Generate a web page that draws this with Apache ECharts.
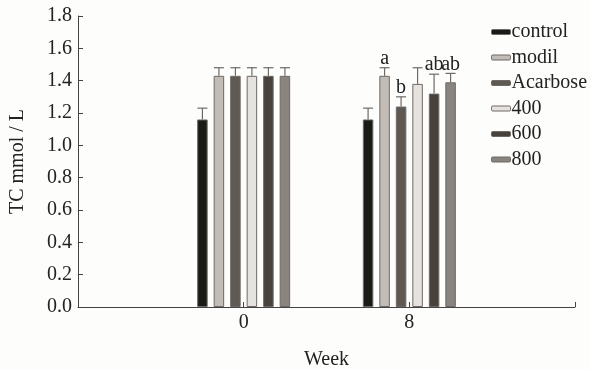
<!DOCTYPE html>
<html>
<head>
<meta charset="utf-8">
<script src="https://cdn.jsdelivr.net/npm/echarts@6/dist/echarts.min.js"></script>
<style>html,body{margin:0;padding:0;background:#fdfdfb;}#c{width:590px;height:370px;}</style>
</head>
<body>
<div id="c"></div>
<script>
var categories = ['', '0', '8', ''];
var seriesNames = ['control', 'modil', 'Acarbose', '400', '600', '800'];
var control  = [null, 1.16, 1.16, null];
var modil    = [null, 1.43, 1.43, null];
var acarbose = [null, 1.43, 1.24, null];
var dose400  = [null, 1.43, 1.38, null];
var dose600  = [null, 1.43, 1.32, null];
var dose800  = [null, 1.43, 1.39, null];
var errControl  = [null, 0.07, 0.07, null];
var errModil    = [null, 0.05, 0.05, null];
var errAcarbose = [null, 0.05, 0.06, null];
var err400      = [null, 0.05, 0.10, null];
var err600      = [null, 0.05, 0.12, null];
var err800      = [null, 0.05, 0.055, null];
var lettersWeek8 = ['', 'a', 'b', '', 'ab', 'ab'];
var yTicks = [0, 0.2, 0.4, 0.6, 0.8, 1.0, 1.2, 1.4, 1.6, 1.8];

var values = [control, modil, acarbose, dose400, dose600, dose800];
var errs = [errControl, errModil, errAcarbose, err400, err600, err800];
var letters = [[], [], [], []];
letters[2] = lettersWeek8;
var colors = ['#1a1a16', '#c2bcb7', '#5f5954', '#e6e2de', '#48423d', '#8a847f'];
var BW = 10.5, GAP = 6;
var stride = BW + GAP;
var font = '"Liberation Serif", "Times New Roman", serif';

var chart = echarts.init(document.getElementById('c'));
var series = [];
seriesNames.forEach(function (n, i) {
  series.push({
    name: n, type: 'bar', data: values[i], barWidth: BW, barGap: (GAP / BW * 100) + '%',
    itemStyle: { color: colors[i], borderColor: '#6e6965', borderWidth: 1 },
    z: 2
  });
});
seriesNames.forEach(function (n, i) {
  var data = [];
  for (var k = 0; k < categories.length; k++) {
    if (values[i][k] != null) data.push([k, values[i][k], errs[i][k], letters[k][i] || '']);
  }
  series.push({
    type: 'custom', silent: true, z: 3,
    data: data,
    encode: { x: 0, y: 1 },
    renderItem: function (params, api) {
      var k = api.value(0), v = api.value(1), e = api.value(2);
      var lab = data[params.dataIndex][3];
      var base = api.coord([k, v]);
      var top = api.coord([k, v + e]);
      var x = base[0] + (i - 2.5) * stride;
      var children = [
        { type: 'line', shape: { x1: x, y1: base[1], x2: x, y2: top[1] }, style: { stroke: '#6e6965', lineWidth: 1.2 } },
        { type: 'line', shape: { x1: x - 5, y1: top[1], x2: x + 5, y2: top[1] }, style: { stroke: '#6e6965', lineWidth: 1.2 } }
      ];
      if (lab) {
        children.push({ type: 'text', style: { text: lab, x: x, y: top[1] + 1, align: 'center', verticalAlign: 'bottom', font: '20px ' + font, fill: '#222' } });
      }
      return { type: 'group', children: children };
    }
  });
});

chart.setOption({
  backgroundColor: '#fdfdfb',
  animation: false,
  grid: { left: 78, right: 15, top: 16, bottom: 63, containLabel: false, outerBoundsMode: 'none' },
  legend: {
    orient: 'vertical', left: 486, top: 17, itemWidth: 19, itemHeight: 5, itemGap: 5.5,
    data: seriesNames,
    textStyle: { fontFamily: font, fontSize: 20, color: '#222', padding: [0, 0, 0, -4] },
    itemStyle: { borderColor: '#6e6965', borderWidth: 1 }
  },
  xAxis: {
    type: 'category', data: categories, boundaryGap: false,
    name: 'Week', nameLocation: 'middle', nameGap: 43,
    nameTextStyle: { fontFamily: font, fontSize: 20, color: '#222' },
    axisLine: { lineStyle: { color: '#444', width: 1 } },
    axisTick: { inside: true, length: 5, lineStyle: { color: '#444' } },
    axisLabel: { fontFamily: font, fontSize: 20, color: '#222', margin: 6 },
    splitLine: { show: false }
  },
  yAxis: {
    type: 'value', min: 0, max: 1.8, interval: 0.2,
    name: 'TC mmol / L', nameLocation: 'middle', nameGap: 50,
    nameTextStyle: { fontFamily: font, fontSize: 20, color: '#222' },
    axisLine: { show: true, lineStyle: { color: '#444', width: 1 } },
    axisTick: { show: true, inside: true, length: 5, lineStyle: { color: '#444' } },
    axisLabel: { fontFamily: font, fontSize: 20, color: '#222', margin: 6, formatter: function (v) { return v.toFixed(1); } },
    splitLine: { show: false }
  },
  series: series
});
</script>
</body>
</html>
